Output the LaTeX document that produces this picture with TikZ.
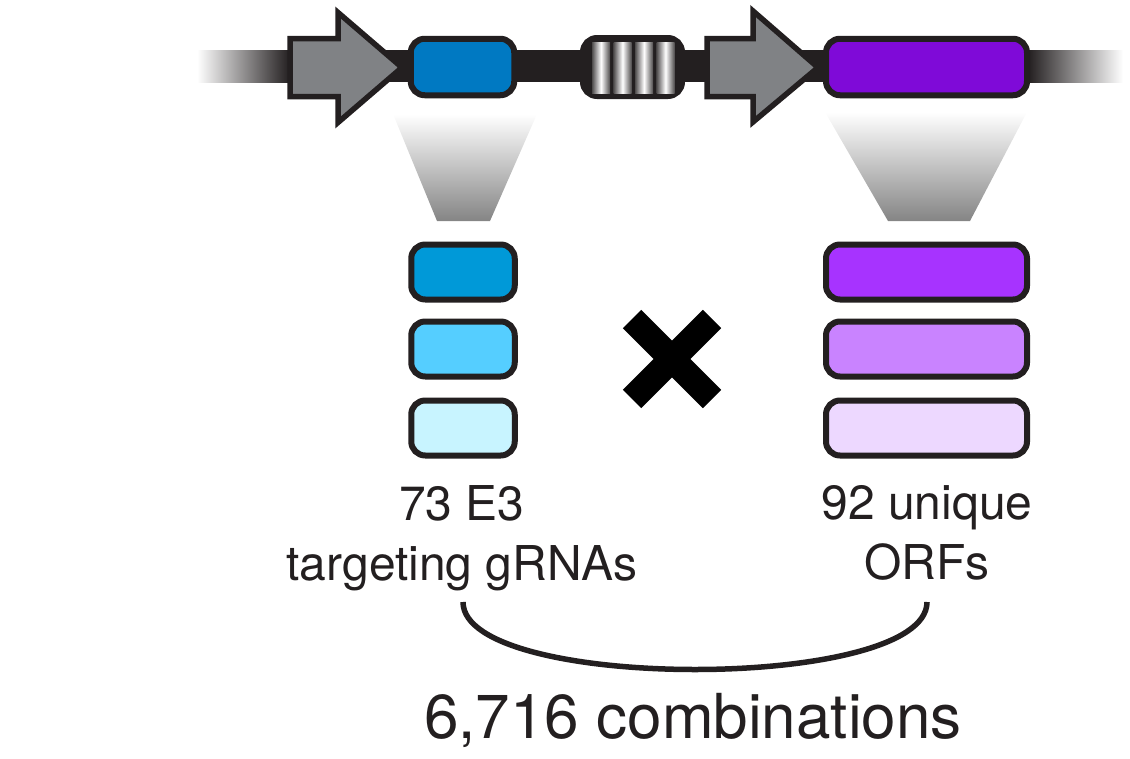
\documentclass[tikz,border=0pt]{standalone}
\usepackage{fontspec}
\setmainfont{TeX Gyre Heros}
\usepackage{tikz}

\definecolor{ink}{HTML}{231F20}
\definecolor{promgray}{HTML}{808285}
\definecolor{guideblue}{HTML}{0079C2}
\definecolor{orfpurple}{HTML}{7F0AD8}
\definecolor{guideA}{HTML}{0099D8}
\definecolor{guideB}{HTML}{55CEFF}
\definecolor{guideC}{HTML}{C8F4FF}
\definecolor{orfA}{HTML}{A733FF}
\definecolor{orfB}{HTML}{C983FF}
\definecolor{orfC}{HTML}{EDD8FF}

\tikzset{
	cassette/.style={draw=ink, line width=6pt, rounded corners=14pt, inner sep=0pt},
	promoter/.style={draw=ink, fill=promgray, line width=5.5pt, line join=miter},
	funnel/.style={top color=white, bottom color=black!48},
	caption/.style={align=center, inner sep=0pt, text=ink, font=\fontsize{48}{60}\selectfont}
}

\begin{document}
\begin{tikzpicture}[x=1pt, y=-1pt]
	\useasboundingbox (0,0) rectangle (1130,758);

	% backbone
	\fill[ink] (288,50) rectangle (1030,82);
	\shade[left color=white, right color=ink] (197,50) rectangle (290,82);
	\shade[left color=ink, right color=white] (1028,50) rectangle (1123,82);

	\shade[funnel] (393,114) -- (537,114) -- (490,221) -- (437,221) -- cycle;
	\shade[funnel] (825,112) -- (1027,112) -- (970,221) -- (888,221) -- cycle;

	\draw[promoter] (290,38.5) -- (338,38.5) -- (338,12.5) -- (402,67.5) -- (338,122.5) -- (338,96.5) -- (290,96.5) -- cycle;
	\draw[promoter] (707,38.5) -- (753,38.5) -- (753,11) -- (818,67.5) -- (753,122) -- (753,96.5) -- (707,96.5) -- cycle;

	\node[cassette, fill=guideblue, minimum width=103.5pt, minimum height=56.5pt] (guide) at (462.5,67) {};
	\node[cassette, fill=ink, minimum width=99pt, minimum height=58pt] (spacer) at (632.5,67) {};
	\foreach \x in {592,613.5,635,656.5}
		\shade[left color=ink!80, right color=ink!80, middle color=white] (\x,42) rectangle ++(18,51);
	\node[cassette, fill=orfpurple, minimum width=201pt, minimum height=56.5pt] (orf) at (926.5,67) {};

	% libraries
	\foreach \n/\y in {A/272, B/349, C/428}
	{
		\node[cassette, fill=guide\n, minimum width=103.5pt, minimum height=55pt] (guide\n) at (463,\y) {};
		\node[cassette, fill=orf\n, minimum width=201pt, minimum height=55pt] (orf\n) at (926.5,\y) {};
	}

	\draw[black, line width=26pt] (632,319) -- (712,399) (632,399) -- (712,319);

	\node[caption, anchor=north] (guidelabel) at (462,485) {73 E3\\targeting gRNAs};
	\node[caption, anchor=north] (orflabel) at (927,485) {92 unique\\ORFs};

	\coordinate (braceL) at (463,602);
	\coordinate (braceR) at (927,602);
	\draw[ink, line width=5.5pt] (braceL) .. controls +(0,90) and +(0,90) .. (braceR);

	\node[anchor=base, inner sep=0pt, text=ink, font=\fontsize{62}{74}\selectfont] (combo) at (693,738) {6,716 combinations};

\end{tikzpicture}
\end{document}
